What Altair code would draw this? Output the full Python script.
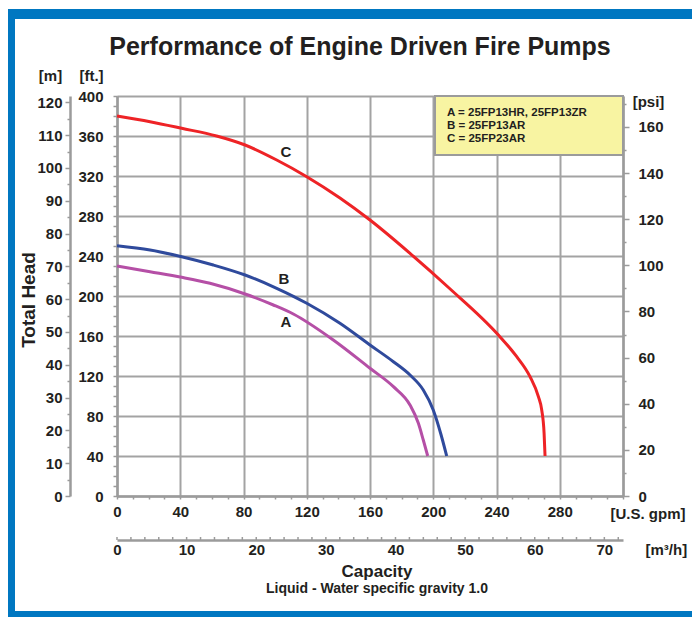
import altair as alt
import pandas as pd

TITLE = "Performance of Engine Driven Fire Pumps"
SUBTITLE = "Liquid - Water specific gravity 1.0"
Y_TITLE = "Total Head"
X_TITLE = "Capacity"

pump_names = ["A", "B", "C"]
pump_colors = ["#b54fa6", "#2f4a9c", "#ee2326"]

# curve A (U.S. gpm, ft)
a_gpm = [0, 20.9, 40.9, 58.8, 81, 98.9, 111.5, 136.8, 160, 174.8, 185.3, 190.6, 193.7, 196.5]
a_ft = [230, 224.3, 218.7, 212.7, 202, 191, 182, 156, 127.7, 109.3, 91, 72.7, 56, 40]
# curve B
b_gpm = [0, 20.9, 40.9, 60.9, 81, 101, 120, 141, 160, 174.8, 185.3, 193.7, 200, 204.8, 208.5]
b_ft = [250.3, 246, 239.3, 231, 221, 207.7, 192.7, 172.7, 151, 134.3, 121, 106, 86, 62, 40]
# curve C
c_gpm = [0, 20.9, 40.9, 63, 81, 101, 120, 141, 160, 185.3, 210, 241.2, 252.8, 261.2, 266.5, 268.6, 270.1, 270.7]
c_ft = [380, 374.3, 367.7, 360, 351, 336, 319.3, 298, 276, 242.7, 208, 161, 139.3, 119.3, 99.3, 86, 62.7, 40]

# curve labels
label_names = ["A", "B", "C"]
label_gpm = [106.9, 105.6, 106.9]
label_ft = [174, 217, 344]

legend_lines = ["A = 25FP13HR, 25FP13ZR", "B = 25FP13AR", "C = 25FP23AR"]

gpm_ticks = list(range(0, 321, 10))
ft_ticks = list(range(0, 401, 10))
m_ticks = list(range(0, 121, 5))
psi_ticks = list(range(0, 171, 10))
m3h_ticks = list(range(0, 71, 10))
m3h_minor = list(range(0, 73, 2))

FT_PER_M = 3.28084
FT_PER_PSI = 2.30666
GPM_PER_M3H = 4.40287

W, H = 506, 400
FONT = "Liberation Sans"
GRAY = "#9b9b9b"
TXT = "#231f20"
BLUE = "#0077c1"

rows = []
for name, xs, ys in zip(pump_names, [a_gpm, b_gpm, c_gpm], [a_ft, b_ft, c_ft]):
    for x, y in zip(xs, ys):
        rows.append({"pump": name, "gpm": x, "ft": y})
curves = pd.DataFrame(rows)
labels_df = pd.DataFrame({"name": label_names, "gpm": label_gpm, "ft": label_ft})


def cond(mod, a, b):
    return {"condition": {"test": f"datum.value % {mod} === 0", "value": a}, "value": b}


x_gpm = alt.X(
    "gpm:Q",
    scale=alt.Scale(domain=[0, 320], nice=False, zero=False),
    axis=alt.Axis(
        orient="bottom", values=gpm_ticks, title="[U.S. gpm]",
        labelExpr="datum.value % 40 === 0 && datum.value < 320 ? datum.label : ''",
        grid=True, gridOpacity=cond(40, 1, 0), tickSize=3, labelPadding=5,
        labelFlush=False, titleX=493, titleY=17, titleAlign="left",
    ),
)
y_ft = alt.Y(
    "ft:Q",
    scale=alt.Scale(domain=[0, 400], nice=False, zero=False),
    axis=alt.Axis(
        orient="left", values=ft_ticks, title="[ft.]",
        labelExpr="datum.value % 40 === 0 ? datum.label : ''",
        grid=True, gridOpacity=cond(40, 1, 0), tickSize=4, labelPadding=10,
        titleX=-26, titleY=-21,
    ),
)

one = pd.DataFrame({"k": [0]})

lines = alt.Chart(curves).mark_line(strokeWidth=3, interpolate="monotone").encode(
    x=x_gpm, y=y_ft,
    color=alt.Color("pump:N", scale=alt.Scale(domain=pump_names, range=pump_colors), legend=None),
)
curve_labels = alt.Chart(labels_df).mark_text(
    font=FONT, fontSize=15, fontWeight="bold", color=TXT
).encode(x=x_gpm, y=y_ft, text="name:N")

legend_box = alt.Chart(one).mark_rect(fill="#f8f4a2", stroke=GRAY, strokeWidth=2).encode(
    x=alt.value(318), x2=alt.value(506), y=alt.value(0), y2=alt.value(59)
)
legend_text = alt.Chart(one).mark_text(
    text="\n".join(legend_lines), lineBreak="\n", lineHeight=13, align="left", baseline="top",
    font=FONT, fontSize=11.5, fontWeight="bold", color=TXT,
).encode(x=alt.value(330), y=alt.value(11))

frame_top = alt.Chart(one).mark_rect(color=BLUE).encode(
    x=alt.value(-109), x2=alt.value(575), y=alt.value(-87), y2=alt.value(-77))
frame_left = alt.Chart(one).mark_rect(color=BLUE).encode(
    x=alt.value(-109), x2=alt.value(-102), y=alt.value(-87), y2=alt.value(521))
frame_bottom = alt.Chart(one).mark_rect(color=BLUE).encode(
    x=alt.value(-109), x2=alt.value(575), y=alt.value(515), y2=alt.value(521))

title = alt.Chart(one).mark_text(
    text=TITLE, font=FONT, fontSize=25, fontWeight="bold", color=TXT,
    align="center", baseline="alphabetic",
).encode(x=alt.value(243), y=alt.value(-41))
y_title = alt.Chart(one).mark_text(
    text=Y_TITLE, font=FONT, fontSize=19, fontWeight="bold", color=TXT, angle=270,
    align="center", baseline="middle",
).encode(x=alt.value(-88), y=alt.value(204))
x_title = alt.Chart(one).mark_text(
    text=X_TITLE, font=FONT, fontSize=17, fontWeight="bold", color=TXT,
    align="center", baseline="middle",
).encode(x=alt.value(260), y=alt.value(476))
sub_title = alt.Chart(one).mark_text(
    text=SUBTITLE, font=FONT, fontSize=14, fontWeight="bold", color=TXT,
    align="center", baseline="middle",
).encode(x=alt.value(260), y=alt.value(493))

main = alt.layer(frame_top, frame_left, frame_bottom, lines, curve_labels, legend_box, legend_text,
                 title, y_title, x_title, sub_title)

# metric axes: m3/h (bottom, offset) and m (left, offset)
x_m3h = alt.X(
    "m3h:Q",
    scale=alt.Scale(domain=[0, 320 / GPM_PER_M3H], nice=False, zero=False),
    axis=alt.Axis(
        orient="bottom", offset=44, values=m3h_ticks, ticks=False, tickSize=0, labelPadding=2,
        title="[m³/h]", titleX=528, titleY=9, titleAlign="left", labelFlush=False, grid=False,
    ),
)
y_m = alt.Y(
    "m:Q",
    scale=alt.Scale(domain=[0, 400 / FT_PER_M], nice=False, zero=False),
    axis=alt.Axis(
        orient="left", offset=47, values=m_ticks,
        labelExpr="datum.value % 10 === 0 ? datum.label : ''",
        tickSize=cond(10, 5, 3), labelPadding=3, title="[m]", titleX=-20, titleY=-21, grid=False,
    ),
)
m3h_rules = alt.Chart(pd.DataFrame({"m3h": m3h_minor})).mark_rule(color=GRAY, strokeWidth=1.5).encode(
    x=x_m3h, y=alt.value(441), y2=alt.value(444))
m_points = alt.Chart(pd.DataFrame({"m": m_ticks})).mark_point(opacity=0).encode(
    x=alt.value(0), y=y_m)
metric = alt.layer(m3h_rules, m_points)

y_psi = alt.Y(
    "psi:Q",
    scale=alt.Scale(domain=[0, 400 / FT_PER_PSI], nice=False, zero=False),
    axis=alt.Axis(
        orient="right", values=psi_ticks,
        labelExpr="datum.value % 20 === 0 ? datum.label : ''",
        tickSize=cond(20, 6, 3), labelPadding=9, title="[psi]", titleX=25, titleY=5, grid=False,
    ),
)
psi_points = alt.Chart(pd.DataFrame({"psi": psi_ticks})).mark_point(opacity=0).encode(
    x=alt.value(0), y=y_psi)

chart = alt.layer(main, metric, psi_points).resolve_scale(
    x="independent", y="independent"
).properties(
    width=W, height=H,
    background="white",
    autosize=alt.AutoSizeParams(type="none"),
    padding={"left": 109, "top": 88, "right": 69, "bottom": 121},
).configure_axis(
    domainColor=GRAY, domainWidth=2.5, tickColor=GRAY, tickWidth=1.5,
    gridColor="#a3a3a3", gridWidth=2,
    labelFont=FONT, labelFontSize=15, labelFontWeight="bold", labelColor=TXT,
    titleFont=FONT, titleFontSize=15, titleFontWeight="bold", titleColor=TXT,
    titleAngle=0, titleBaseline="middle", labelOverlap=False,
).configure_view(strokeWidth=0)

chart.save("out.html", embed_options={"renderer": "svg", "actions": False})
